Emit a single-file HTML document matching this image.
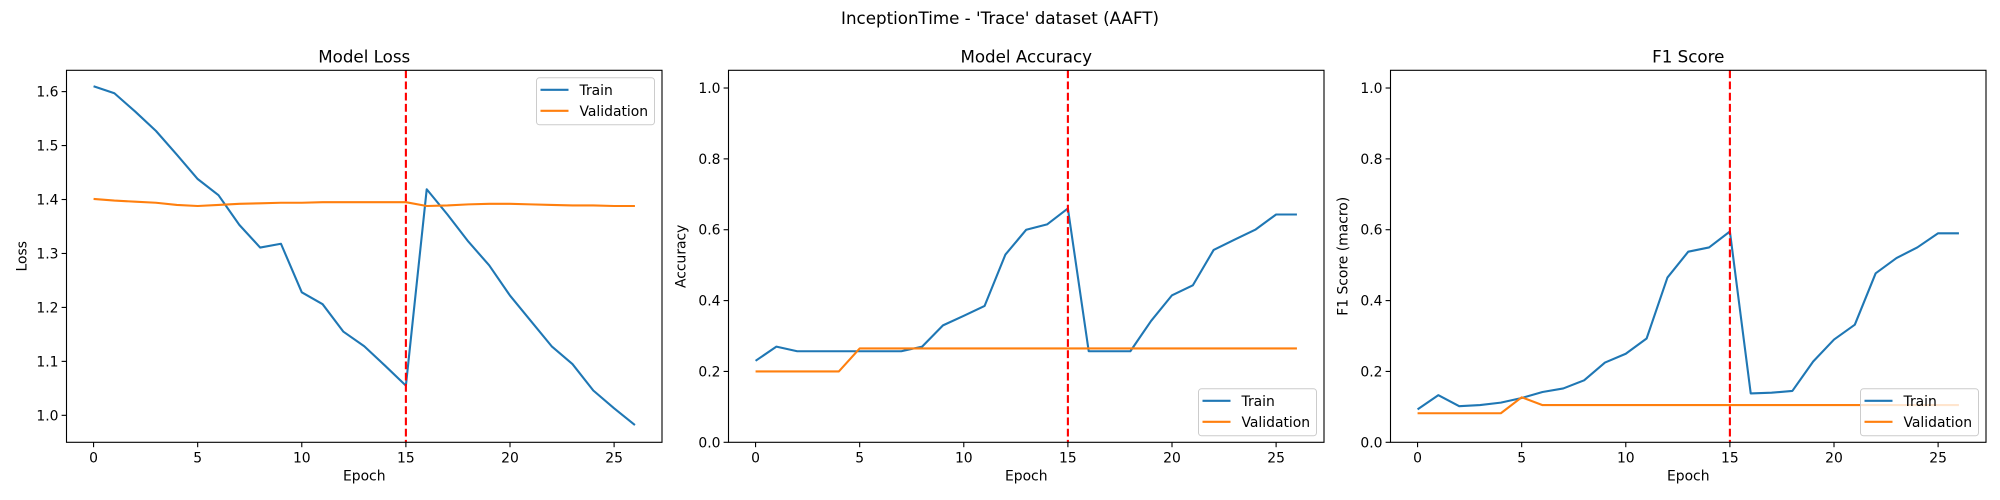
<!DOCTYPE html>
<html><head><meta charset="utf-8"><style>
html,body{margin:0;padding:0;background:#fff;}
svg{display:block;font-family:"DejaVu Sans","Liberation Sans",sans-serif;}
</style></head><body>
<svg id="fig" width="2000" height="500" xmlns="http://www.w3.org/2000/svg">
<text x="1000" y="24" text-anchor="middle" font-size="16.7">InceptionTime - 'Trace' dataset (AAFT)</text>
</svg>
<script>
const epochs = [0,1,2,3,4,5,6,7,8,9,10,11,12,13,14,15,16,17,18,19,20,21,22,23,24,25,26];
const lossTrain = [1.61,1.597,1.563,1.527,1.483,1.438,1.408,1.353,1.311,1.318,1.228,1.206,1.155,1.128,1.092,1.055,1.419,1.372,1.322,1.278,1.222,1.175,1.128,1.095,1.046,1.013,0.982];
const lossVal = [1.401,1.398,1.396,1.394,1.390,1.388,1.390,1.392,1.393,1.394,1.394,1.395,1.395,1.395,1.395,1.395,1.388,1.389,1.391,1.392,1.392,1.391,1.390,1.389,1.389,1.388,1.388];
const accTrain = [0.23,0.27,0.257,0.257,0.257,0.257,0.257,0.257,0.27,0.33,0.357,0.385,0.53,0.6,0.615,0.66,0.257,0.257,0.257,0.343,0.415,0.443,0.543,0.572,0.6,0.643,0.643];
const accVal = [0.2,0.2,0.2,0.2,0.2,0.265,0.265,0.265,0.265,0.265,0.265,0.265,0.265,0.265,0.265,0.265,0.265,0.265,0.265,0.265,0.265,0.265,0.265,0.265,0.265,0.265,0.265];
const f1Train = [0.093,0.133,0.102,0.105,0.112,0.125,0.142,0.152,0.175,0.225,0.25,0.293,0.465,0.538,0.55,0.595,0.138,0.14,0.145,0.228,0.29,0.332,0.477,0.52,0.55,0.59,0.59];
const f1Val = [0.082,0.082,0.082,0.082,0.082,0.127,0.105,0.105,0.105,0.105,0.105,0.105,0.105,0.105,0.105,0.105,0.105,0.105,0.105,0.105,0.105,0.105,0.105,0.105,0.105,0.105,0.105];
const bestEpoch = 15;
const xTicks = [0,5,10,15,20,25];
const lossTicks = [1.0,1.1,1.2,1.3,1.4,1.5,1.6];
const unitTicks = [0.0,0.2,0.4,0.6,0.8,1.0];

const NS='http://www.w3.org/2000/svg';
const svg=document.getElementById('fig');
function mk(tag,attrs,parent){const e=document.createElementNS(NS,tag);for(const k in attrs)e.setAttribute(k,attrs[k]);(parent||svg).appendChild(e);return e;}

const panels=[
 {key:'loss',title:'Model Loss',ylabel:'Loss',left:66.5,train:lossTrain,val:lossVal,ymin:0.95,ymax:1.6395,ticks:lossTicks,dec:1,legend:'top',yoff:40},
 {key:'accuracy',title:'Model Accuracy',ylabel:'Accuracy',left:728.5,train:accTrain,val:accVal,ymin:0,ymax:1.05,ticks:unitTicks,dec:1,legend:'bottom',yoff:43},
 {key:'f1',title:'F1 Score',ylabel:'F1 Score (macro)',left:1390.5,train:f1Train,val:f1Val,ymin:0,ymax:1.05,ticks:unitTicks,dec:1,legend:'bottom',yoff:43}
];
const W=595.5, TOP=70.3, BOT=442.3, XMIN=-1.3, XMAX=27.3;
panels.forEach(p=>{
  const g=mk('g',{});
  
  
  const sx=v=>p.left+(v-XMIN)/(XMAX-XMIN)*W;
  const sy=v=>BOT-(v-p.ymin)/(p.ymax-p.ymin)*(BOT-TOP);
  const t=mk('text',{x:p.left+W/2,y:TOP-8,'text-anchor':'middle','font-size':'16.7'},g);
  t.textContent=p.title;
  
  
  xTicks.forEach(v=>{
    mk('line',{x1:sx(v),x2:sx(v),y1:BOT,y2:BOT+4.9,stroke:'#000','stroke-width':1.1},g);
    const tt=mk('text',{x:sx(v),y:BOT+20,'text-anchor':'middle','font-size':'13.9'},g);
    tt.textContent=v;
    
    
  });
  p.ticks.forEach(v=>{
    mk('line',{x1:p.left-4.9,x2:p.left,y1:sy(v),y2:sy(v),stroke:'#000','stroke-width':1.1},g);
    const tt=mk('text',{x:p.left-8,y:sy(v)+5,'text-anchor':'end','font-size':'13.9'},g);
    tt.textContent=v.toFixed(p.dec);
    
    
  });
  const xl=mk('text',{x:p.left+W/2,y:BOT+38,'text-anchor':'middle','font-size':'13.9'},g);
  xl.textContent='Epoch';
  
  
  const yx=p.left-p.yoff, yc=(TOP+BOT)/2;
  const yl=mk('text',{x:yx,y:yc,'text-anchor':'middle','font-size':'13.9',transform:`rotate(-90 ${yx} ${yc})`},g);
  yl.textContent=p.ylabel;
  
  
  function line(arr,color,name){
    const pts=arr.map((v,i)=>sx(epochs[i]).toFixed(2)+','+sy(v).toFixed(2)).join(' ');
    const l=mk('polyline',{points:pts,fill:'none',stroke:color,'stroke-width':2.1,'stroke-linejoin':'round'},g);
    
    
  }
  line(p.train,'#1f77b4',p.key+'-train-line');
  line(p.val,'#ff7f0e',p.key+'-validation-line');
  const bl=mk('line',{x1:sx(bestEpoch),x2:sx(bestEpoch),y1:TOP,y2:BOT,stroke:'#ff0000','stroke-width':2.1,'stroke-dasharray':'7.8,3.4'},g);
  
  
  const fr=mk('rect',{x:p.left,y:TOP,width:W,height:BOT-TOP,fill:'none',stroke:'#000','stroke-width':1.1},g);
  
  
  const lw=118, lh=47, lx=p.left+W-7.5-lw, ly=p.legend==='top'?TOP+7.5:BOT-6.5-lh;
  const lg=mk('g',{},g);
  
  
  mk('rect',{x:lx,y:ly,width:lw,height:lh,rx:3,fill:'#fff','fill-opacity':0.8,stroke:'#ccc','stroke-width':1},lg);
  [['Train','#1f77b4'],['Validation','#ff7f0e']].forEach((e,i)=>{
    const yy=ly+12+i*21;
    const en=mk('g',{},lg);
    
    
    mk('line',{x1:lx+4,x2:lx+32,y1:yy,y2:yy,stroke:e[1],'stroke-width':2.1},en);
    const tx=mk('text',{x:lx+43,y:yy+5,'font-size':'13.9'},en);
    tx.textContent=e[0];
  });
});
</script>
</body></html>
